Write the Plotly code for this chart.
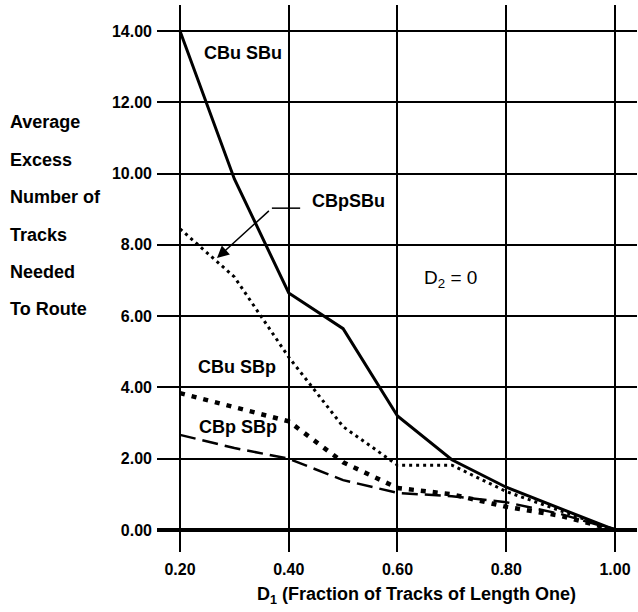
import plotly.graph_objects as go

# ---- data ----
d1 = [0.2, 0.3, 0.4, 0.5, 0.6, 0.7, 0.8, 0.9, 1.0]
cbu_sbu = [14.0, 9.85, 6.65, 5.65, 3.2, 1.97, 1.2, 0.6, 0.0]
cbp_sbu = [8.45, 7.1, 4.85, 2.9, 1.82, 1.82, 1.08, 0.55, 0.0]
cbu_sbp = [3.84, 3.45, 3.05, 1.9, 1.18, 1.0, 0.65, 0.4, 0.0]
cbp_sbp = [2.67, 2.3, 2.0, 1.4, 1.04, 0.95, 0.78, 0.45, 0.0]

x_ticks = [0.2, 0.4, 0.6, 0.8, 1.0]
x_tick_labels = ["0.20", "0.40", "0.60", "0.80", "1.00"]
y_ticks = [0, 2, 4, 6, 8, 10, 12, 14]
y_tick_labels = ["0.00", "2.00", "4.00", "6.00", "8.00", "10.00", "12.00", "14.00"]

y_title_lines = ["Average", "Excess", "Number of", "Tracks", "Needed", "To Route"]
y_title_pos = [11.45, 10.38, 9.34, 8.28, 7.24, 6.20]

FONT = "Liberation Sans"

fig = go.Figure()
fig.add_trace(go.Scatter(x=d1, y=cbu_sbu, mode="lines", name="CBu SBu",
                         line=dict(color="black", width=3)))
fig.add_trace(go.Scatter(x=d1, y=cbp_sbu, mode="lines", name="CBpSBu",
                         line=dict(color="black", width=3, dash="3px,4px")))
fig.add_trace(go.Scatter(x=d1, y=cbu_sbp, mode="lines", name="CBu SBp",
                         line=dict(color="black", width=4.5, dash="5px,7px")))
fig.add_trace(go.Scatter(x=d1, y=cbp_sbp, mode="lines", name="CBp SBp",
                         line=dict(color="black", width=2.5, dash="16px,7px")))

annots = []
lab_font = dict(family=FONT, size=18, color="black", weight="bold")
for t, yy in zip(y_title_lines, y_title_pos):
    annots.append(dict(text=t, x=-0.31, xref="paper", xanchor="left",
                       y=yy, yref="y", yanchor="middle", showarrow=False, font=lab_font))

annots += [
    dict(text="CBu SBu", x=0.316, y=13.38, showarrow=False, font=lab_font),
    dict(text="CBpSBu", x=0.509, y=9.23, showarrow=False, font=lab_font),
    dict(text="D<sub>2</sub> = 0", x=0.697, y=7.05, showarrow=False,
         font=dict(family=FONT, size=19, color="black")),
    dict(text="CBu SBp", x=0.305, y=4.57, showarrow=False, font=lab_font),
    dict(text="CBp SBp", x=0.307, y=2.89, showarrow=False, font=lab_font),
    dict(text=" ", x=0.268, y=7.63, ax=0.369, ay=9.03, axref="x", ayref="y",
         showarrow=True, arrowhead=2, arrowsize=1.6, arrowwidth=1.5, arrowcolor="black"),
    dict(text="D<sub>1</sub> (Fraction of Tracks of Length One)", x=0.541, xref="paper",
         y=-43 / 547, yref="paper", yanchor="middle",
         showarrow=False, font=dict(family=FONT, size=18, color="black", weight="bold")),
]

fig.update_layout(
    width=638, height=612,
    margin=dict(l=157, r=1, t=5, b=60, autoexpand=False),
    paper_bgcolor="white", plot_bgcolor="white",
    showlegend=False,
    annotations=annots,
    shapes=[dict(type="line", x0=0.369, y0=9.03, x1=0.421, y1=9.03,
                 line=dict(color="black", width=1.5))],
    font=dict(family=FONT, color="black"),
)
fig.update_xaxes(range=[0.1577, 1.0405], tickvals=x_ticks, ticktext=x_tick_labels,
                 showgrid=True, gridcolor="black", gridwidth=1.5, zeroline=False,
                 showline=False, ticks="", ticklabelstandoff=6, automargin=False,
                 tickfont=dict(family=FONT, size=16, color="black", weight="bold"))
fig.update_yaxes(range=[-0.617, 14.73], tickvals=y_ticks, ticktext=y_tick_labels,
                 showgrid=True, gridcolor="black", gridwidth=1.5, zeroline=True,
                 zerolinecolor="black", zerolinewidth=3.5,
                 showline=False, ticks="", ticklabelstandoff=4, automargin=False,
                 tickfont=dict(family=FONT, size=16, color="black", weight="bold"))

fig.write_html("out.html", config={"displayModeBar": False},
               post_script="document.body.style.margin='0';")
